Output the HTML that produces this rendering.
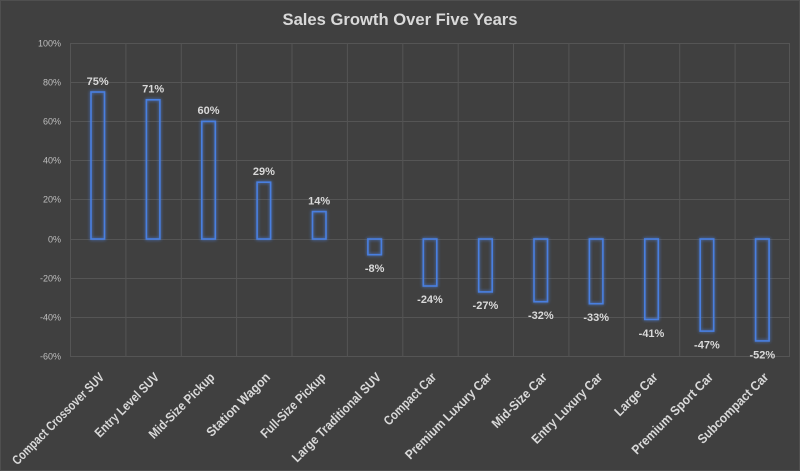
<!DOCTYPE html>
<html><head><meta charset="utf-8"><style>
html,body{margin:0;padding:0;background:#404040;}
svg{display:block;}
</style></head><body>
<svg width="800" height="471" viewBox="0 0 800 471" xmlns="http://www.w3.org/2000/svg">
<defs>
<filter id="glow" x="-50%" y="-20%" width="200%" height="140%">
<feGaussianBlur in="SourceGraphic" stdDeviation="1.6" result="b"/>
<feMerge><feMergeNode in="b"/><feMergeNode in="SourceGraphic"/></feMerge>
</filter>
</defs>
<rect x="0" y="0" width="800" height="471" fill="#404040"/>
<rect x="0.5" y="0.5" width="799" height="470" fill="none" stroke="#4f4f4f" stroke-width="1"/>
<text x="400" y="25" text-anchor="middle" font-family="Liberation Sans, sans-serif" font-weight="bold" font-size="17" fill="#d9d9d9" textLength="235" lengthAdjust="spacingAndGlyphs">Sales Growth Over Five Years</text>
<g stroke="#555555" stroke-width="1">
<line x1="70" y1="43.5" x2="790" y2="43.5"/>
<line x1="70" y1="82.5" x2="790" y2="82.5"/>
<line x1="70" y1="121.5" x2="790" y2="121.5"/>
<line x1="70" y1="160.5" x2="790" y2="160.5"/>
<line x1="70" y1="199.5" x2="790" y2="199.5"/>
<line x1="70" y1="239.5" x2="790" y2="239.5"/>
<line x1="70" y1="278.5" x2="790" y2="278.5"/>
<line x1="70" y1="317.5" x2="790" y2="317.5"/>
<line x1="70" y1="356.5" x2="790" y2="356.5"/>
<line x1="70.5" y1="43" x2="70.5" y2="357"/>
<line x1="125.9" y1="43" x2="125.9" y2="357"/>
<line x1="181.3" y1="43" x2="181.3" y2="357"/>
<line x1="236.6" y1="43" x2="236.6" y2="357"/>
<line x1="292" y1="43" x2="292" y2="357"/>
<line x1="347.4" y1="43" x2="347.4" y2="357"/>
<line x1="402.8" y1="43" x2="402.8" y2="357"/>
<line x1="458.2" y1="43" x2="458.2" y2="357"/>
<line x1="513.5" y1="43" x2="513.5" y2="357"/>
<line x1="568.9" y1="43" x2="568.9" y2="357"/>
<line x1="624.3" y1="43" x2="624.3" y2="357"/>
<line x1="679.7" y1="43" x2="679.7" y2="357"/>
<line x1="735.1" y1="43" x2="735.1" y2="357"/>
<line x1="789.5" y1="43" x2="789.5" y2="357"/>
</g>
<g font-family="Liberation Sans, sans-serif" font-size="9" fill="#bfbfbf" text-anchor="end">
<text x="61" y="46.5">100%</text>
<text x="61" y="85.5">80%</text>
<text x="61" y="124.5">60%</text>
<text x="61" y="163.5">40%</text>
<text x="61" y="202.5">20%</text>
<text x="61" y="242.5">0%</text>
<text x="61" y="281.5">-20%</text>
<text x="61" y="320.5">-40%</text>
<text x="61" y="359.5">-60%</text>
</g>
<g fill="none" stroke="#4a7fe0" stroke-width="1.6" filter="url(#glow)">
<rect x="91" y="92" width="13.5" height="147"/>
<rect x="146.4" y="99.8" width="13.5" height="139.2"/>
<rect x="201.8" y="121.4" width="13.5" height="117.6"/>
<rect x="257.1" y="182.2" width="13.5" height="56.8"/>
<rect x="312.5" y="211.6" width="13.5" height="27.4"/>
<rect x="367.9" y="239" width="13.5" height="15.7"/>
<rect x="423.3" y="239" width="13.5" height="47"/>
<rect x="478.7" y="239" width="13.5" height="52.9"/>
<rect x="534" y="239" width="13.5" height="62.7"/>
<rect x="589.4" y="239" width="13.5" height="64.7"/>
<rect x="644.8" y="239" width="13.5" height="80.4"/>
<rect x="700.2" y="239" width="13.5" height="92.1"/>
<rect x="755.6" y="239" width="13.5" height="101.9"/>
</g>
<g font-family="Liberation Sans, sans-serif" font-size="11" font-weight="bold" fill="#d9d9d9" text-anchor="middle">
<text x="97.7" y="85">75%</text>
<text x="153.1" y="92.5">71%</text>
<text x="208.5" y="114">60%</text>
<text x="263.9" y="175">29%</text>
<text x="319.2" y="204.5">14%</text>
<text x="374.6" y="272">-8%</text>
<text x="430" y="303">-24%</text>
<text x="485.4" y="309">-27%</text>
<text x="540.8" y="319">-32%</text>
<text x="596.2" y="321">-33%</text>
<text x="651.5" y="337">-41%</text>
<text x="706.9" y="348.5">-47%</text>
<text x="762.3" y="358.5">-52%</text>
</g>
<g font-family="Liberation Sans, sans-serif" font-size="13" font-weight="bold" fill="#d9d9d9" text-anchor="end">
<text transform="translate(105,378) rotate(-45)" textLength="124" lengthAdjust="spacingAndGlyphs">Compact Crossover SUV</text>
<text transform="translate(160,378) rotate(-45)" textLength="85" lengthAdjust="spacingAndGlyphs">Entry Level SUV</text>
<text transform="translate(215.5,378) rotate(-45)" textLength="87" lengthAdjust="spacingAndGlyphs">Mid-Size Pickup</text>
<text transform="translate(271,378) rotate(-45)" textLength="84" lengthAdjust="spacingAndGlyphs">Station Wagon</text>
<text transform="translate(326.5,378) rotate(-45)" textLength="86" lengthAdjust="spacingAndGlyphs">Full-Size Pickup</text>
<text transform="translate(382,378) rotate(-45)" textLength="120" lengthAdjust="spacingAndGlyphs">Large Traditional SUV</text>
<text transform="translate(437,378) rotate(-45)" textLength="68" lengthAdjust="spacingAndGlyphs">Compact Car</text>
<text transform="translate(492.4,378) rotate(-45)" textLength="116" lengthAdjust="spacingAndGlyphs">Premium Luxury Car</text>
<text transform="translate(547.8,378) rotate(-45)" textLength="72" lengthAdjust="spacingAndGlyphs">Mid-Size Car</text>
<text transform="translate(603.2,378) rotate(-45)" textLength="94" lengthAdjust="spacingAndGlyphs">Entry Luxury Car</text>
<text transform="translate(658.5,378) rotate(-45)" textLength="55" lengthAdjust="spacingAndGlyphs">Large Car</text>
<text transform="translate(713.9,378) rotate(-45)" textLength="109" lengthAdjust="spacingAndGlyphs">Premium Sport Car</text>
<text transform="translate(769.3,378) rotate(-45)" textLength="94" lengthAdjust="spacingAndGlyphs">Subcompact Car</text>
</g>
</svg>
</body></html>
